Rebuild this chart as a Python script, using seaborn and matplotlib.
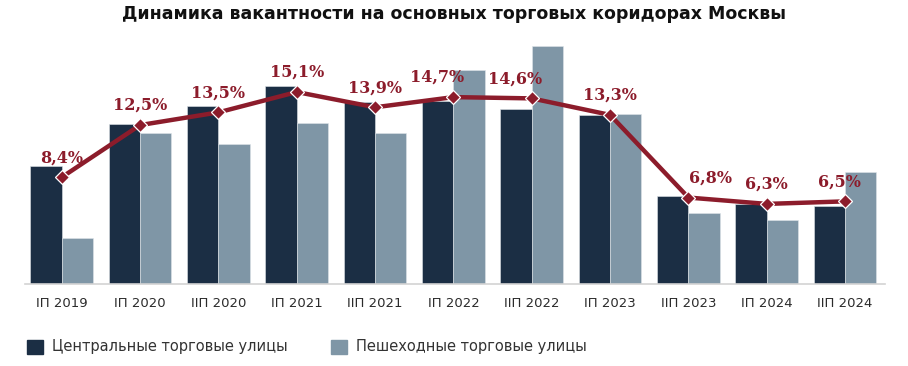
import numpy as np
import pandas as pd
import matplotlib
matplotlib.use('Agg')
import matplotlib.pyplot as plt
import seaborn as sns

# periods and values
periods = ['IП 2019', 'IП 2020', 'IIП 2020', 'IП 2021', 'IIП 2021', 'IП 2022',
           'IIП 2022', 'IП 2023', 'IIП 2023', 'IП 2024', 'IIП 2024']
central = [9.3, 12.6, 14.0, 15.6, 14.3, 14.4, 13.8, 13.3, 6.9, 6.3, 6.1]
pedestrian = [3.65, 11.9, 11.0, 12.7, 11.9, 16.8, 18.7, 13.4, 5.6, 5.0, 8.8]
total = [8.4, 12.5, 13.5, 15.1, 13.9, 14.7, 14.6, 13.3, 6.8, 6.3, 6.5]
total_labels = ['8,4%', '12,5%', '13,5%', '15,1%', '13,9%', '14,7%',
                '14,6%', '13,3%', '6,8%', '6,3%', '6,5%']
series_names = ['Центральные торговые улицы', 'Пешеходные торговые улицы']

# label nudges (points) where the reference moves the label sideways
label_dx = {5: -12, 6: -12, 8: 16, 10: -4}

sns.set_style('white')
plt.rcParams['font.family'] = ['DejaVu Sans']

df = pd.DataFrame({
    'period': periods * 2,
    'value': central + pedestrian,
    'type': [series_names[0]] * len(periods) + [series_names[1]] * len(periods),
})

fig = plt.figure(figsize=(9.08, 3.66), dpi=100)
ax = fig.add_axes([0.0275, 0.224, 0.9472, 0.667])

palette = {series_names[0]: '#1b2e44', series_names[1]: '#7f96a6'}
sns.barplot(data=df, x='period', y='value', hue='type', palette=palette,
            order=periods, hue_order=series_names, width=0.8, saturation=1,
            edgecolor='#dfe4e8', linewidth=0.4, ax=ax, legend=False)

sns.pointplot(x=periods, y=total, order=periods, color='#8c1c2b', markers='D',
              linewidth=3.2, markersize=7, markeredgecolor='white',
              markeredgewidth=0.9, ax=ax, zorder=5)

for i, (v, lab) in enumerate(zip(total, total_labels)):
    ax.annotate(lab, (i, v), xytext=(label_dx.get(i, 0), 8), textcoords='offset points',
                ha='center', va='bottom', fontsize=11.5, fontweight='bold',
                family='DejaVu Serif', color='#8c1c2b', zorder=6)

ax.set_xlim(-0.47, 10.51)
ax.set_ylim(0, 19.2)
ax.set_xlabel('')
ax.set_ylabel('')
ax.set_yticks([])
ax.tick_params(axis='x', length=0, pad=9, labelsize=9.5, labelcolor='#2b2b2b')
for s in ['top', 'right', 'left']:
    ax.spines[s].set_visible(False)
ax.spines['bottom'].set_color('#d3d3d3')
ax.spines['bottom'].set_linewidth(1.2)

fig.suptitle('Динамика вакантности на основных торговых коридорах Москвы',
             x=0.5, y=0.985, fontsize=12.5, fontweight='bold', color='#111111')

handles = [plt.Rectangle((0, 0), 1, 1, color=palette[n]) for n in series_names]
fig.legend(handles, series_names, loc='center left', bbox_to_anchor=(0.015, 0.052),
           ncol=2, frameon=False, fontsize=10.5, handlelength=1.1, handleheight=1.1,
           handletextpad=0.6, columnspacing=3.0, labelcolor='#333333')

fig.savefig('out.png', dpi=100)
